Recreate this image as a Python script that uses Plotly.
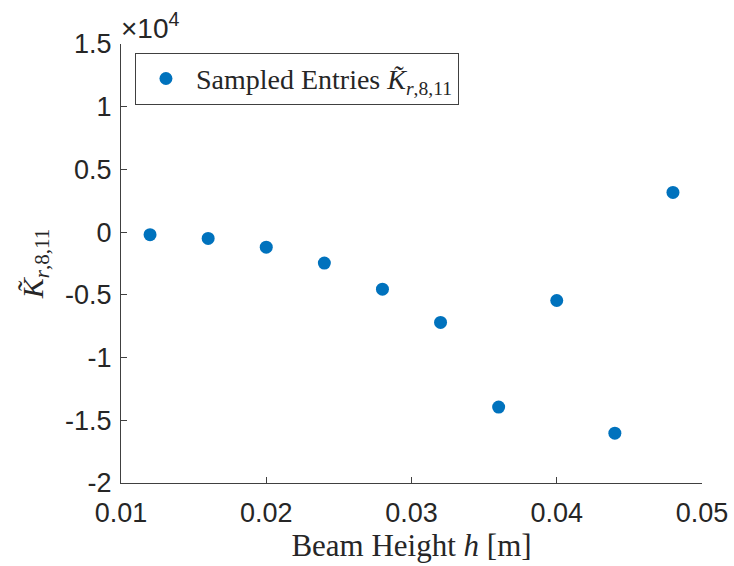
import plotly.graph_objects as go

# Data
beam_height = [0.012, 0.016, 0.020, 0.024, 0.028, 0.032, 0.036, 0.040, 0.044, 0.048]
k_values = [-200, -500, -1200, -2470, -4550, -7200, -13950, -5450, -16030, 3170]

y_tickvals = [-20000, -15000, -10000, -5000, 0, 5000, 10000, 15000]
y_ticktext = ["-2", "-1.5", "-1", "-0.5", "0", "0.5", "1", "1.5"]
x_tickvals = [0.01, 0.02, 0.03, 0.04, 0.05]
x_ticktext = ["0.01", "0.02", "0.03", "0.04", "0.05"]

blue = "#0072BD"
axis_col = "#404040"
text_col = "#262626"
sans = "Liberation Sans, Arial, sans-serif"
serif = "Liberation Serif, Times New Roman, serif"

fig = go.Figure()
fig.add_trace(go.Scatter(
    x=beam_height, y=k_values, mode="markers",
    marker=dict(color=blue, size=13, line=dict(width=0)),
    name="Sampled Entries <i>K̃</i><sub><i>r</i>,8,11</sub>",
))

fig.update_layout(
    width=734, height=566,
    margin=dict(l=121, r=32, t=44, b=83),
    paper_bgcolor="white", plot_bgcolor="white",
    showlegend=True,
    legend=dict(
        x=0.024, y=0.98, xanchor="left", yanchor="top",
        bgcolor="white", bordercolor=axis_col, borderwidth=1,
        itemwidth=50,
        font=dict(family=serif, size=28, color=text_col),
    ),
    xaxis=dict(
        range=[0.01, 0.05], tickvals=x_tickvals, ticktext=x_ticktext,
        automargin=False,
        showgrid=False, zeroline=False, showline=True, linecolor=axis_col, linewidth=1,
        ticks="inside", ticklen=6, tickcolor=axis_col, ticklabelstandoff=6,
        tickfont=dict(family=sans, size=27, color=text_col),
        title=dict(text="Beam Height <i>h</i> [m]", font=dict(family=serif, size=31, color=text_col), standoff=6),
    ),
    yaxis=dict(
        range=[-20000, 15000], tickvals=y_tickvals, ticktext=y_ticktext,
        automargin=False,
        showgrid=False, zeroline=False, showline=True, linecolor=axis_col, linewidth=1,
        ticks="inside", ticklen=6, tickcolor=axis_col, ticklabelstandoff=3,
        tickfont=dict(family=sans, size=27, color=text_col),
        title=dict(text="<i>K̃</i><sub><i>r</i>,8,11</sub>", font=dict(family=serif, size=30, color=text_col), standoff=12),
    ),
)

fig.add_annotation(
    x=0, y=1, xref="paper", yref="paper", xanchor="left", yanchor="bottom",
    text="×10<sup>4</sup>", showarrow=False, xshift=-2, yshift=-2,
    font=dict(family=sans, size=28, color=text_col),
)

fig.write_html("out.html")
